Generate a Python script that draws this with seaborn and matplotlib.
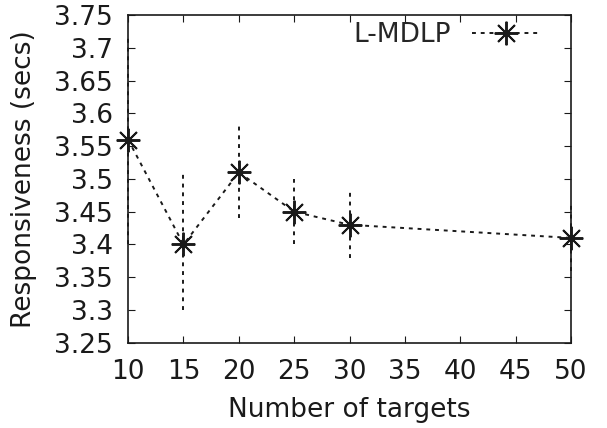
import numpy as np
import pandas as pd
import matplotlib
matplotlib.use("Agg")
import matplotlib.pyplot as plt
import seaborn as sns

# Data
targets = [10, 15, 20, 25, 30, 50]
resp = [3.56, 3.40, 3.51, 3.45, 3.43, 3.41]
resp_low = [3.40, 3.30, 3.44, 3.40, 3.38, 3.36]
resp_high = [3.72, 3.51, 3.58, 3.50, 3.48, 3.46]

x_ticks = [10, 15, 20, 25, 30, 35, 40, 45, 50]
y_ticks = [3.25, 3.3, 3.35, 3.4, 3.45, 3.5, 3.55, 3.6, 3.65, 3.7, 3.75]

sns.set_style("ticks")
plt.rcParams['font.family'] = ['DejaVu Sans']

df = pd.DataFrame({"Number of targets": targets, "Responsiveness (secs)": resp})

fig = plt.figure(figsize=(6.07, 4.28), dpi=100)
ax = fig.add_axes([0.211, 0.199, 0.730, 0.766])

col = "#1a1a1a"
fs = 19

# error bars
yerr = [np.array(resp) - np.array(resp_low), np.array(resp_high) - np.array(resp)]
eb = ax.errorbar(targets, resp, yerr=yerr, fmt="none", ecolor=col, elinewidth=1.4, capsize=0)
eb[2][0].set_linestyle((0, (2, 2.5)))
eb[2][0].set_clip_on(False)

sns.lineplot(data=df, x="Number of targets", y="Responsiveness (secs)", ax=ax,
             color=col, linestyle=(0, (2, 2.5)), linewidth=1.4,
             marker=(8, 2, 0), markersize=17, markeredgewidth=1.4,
             markeredgecolor=col, label="L-MDLP", clip_on=False, zorder=5)

ax.set_xlim(10, 50)
ax.set_ylim(3.25, 3.75)
ax.set_xticks(x_ticks)
ax.set_yticks(y_ticks)
ax.set_yticklabels([f"{v:g}" for v in y_ticks])

ax.tick_params(direction="in", top=True, right=True, length=5, width=0.8,
               labelsize=fs, colors=col)
ax.tick_params(axis="y", pad=11)
ax.tick_params(axis="x", pad=12)
for s in ax.spines.values():
    s.set_visible(True)
    s.set_linewidth(1.2)
    s.set_color(col)

ax.set_xlabel("Number of targets", fontsize=fs, color=col, labelpad=8)
ax.set_ylabel("Responsiveness (secs)", fontsize=fs, color=col, labelpad=12)

leg = ax.legend(loc="upper right", frameon=False, markerfirst=False, fontsize=fs,
                handlelength=2.6, borderaxespad=0.0, bbox_to_anchor=(0.955, 1.01),
                handletextpad=0.8)

fig.savefig("out.png", dpi=100)
